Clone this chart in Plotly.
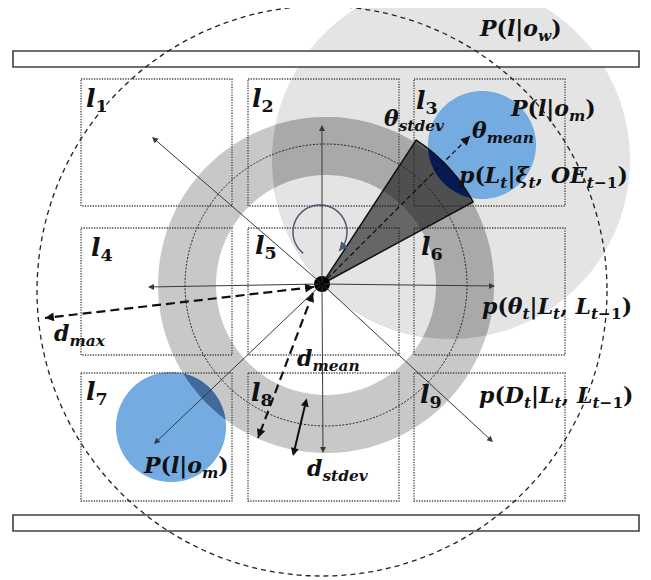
import numpy as np
import plotly.graph_objects as go

W, H = 651, 580
PAGE_MARGIN = 8  # browser default body margin

# ---- geometry (pixel space, y down) ----
robot = (322, 284)
robot_r = 8
bar_x = (13, 639)
bars_y = [(51, 67), (515, 531)]
cell_x = [(81, 232), (248, 399), (414, 565)]
cell_y = [(79, 206), (228, 355), (373, 501)]
cell_ids = ["1", "2", "3", "4", "5", "6", "7", "8", "9"]
cell_label_pos = [(97, 100), (263, 100), (427, 102),
                  (102, 249), (266, 247), (432, 248),
                  (97, 393), (262, 394), (431, 396)]
dmax_circle = (322, 291, 285)
world_circle = (451, 160, 179)
ring_center = (326, 285)
ring_radii = (110, 168)
ring_mean_r = 141
blue_circles = [(482, 145, 54), (171, 427, 55)]
cone_sector = (172, -56.8, -28.5)     # radius, start deg, end deg (screen angles, y down)
theta_mean_tip = (470, 136)
thin_arrow_tips = [(322, 125), (152, 137), (148, 287), (495, 286),
                   (154, 444), (323, 453), (493, 442)]
dmax_ends = [(314, 287), (45, 318)]
dmean_ends = [(313, 293), (258, 438)]
dstdev_ends = [(307, 397), (293, 456)]
rot_arc = (320, 232, 27, 128, 405)   # cx, cy, r, start deg, end deg (screen angles)

labels = [
    ("<b><i>P</i>(<i>l</i>|<i>o</i><sub><i>w</i></sub>)</b>", 520, 30),
    ("<b><i>P</i>(<i>l</i>|<i>o</i><sub><i>m</i></sub>)</b>", 553, 110),
    ("<b><i>θ</i><sub><i>stdev</i></sub></b>", 414, 120),
    ("<b><i>θ</i><sub><i>mean</i></sub></b>", 503, 132),
    ("<b><i>p</i>(<i>L</i><sub><i>t</i></sub>|<i>ξ</i><sub><i>t</i></sub>, <i>OE</i><sub><i>t</i>−1</sub>)</b>", 543, 177),
    ("<b><i>p</i>(<i>θ</i><sub><i>t</i></sub>|<i>L</i><sub><i>t</i></sub>, <i>L</i><sub><i>t</i>−1</sub>)</b>", 557, 308),
    ("<b><i>p</i>(<i>D</i><sub><i>t</i></sub>|<i>L</i><sub><i>t</i></sub>, <i>L</i><sub><i>t</i>−1</sub>)</b>", 556, 397),
    ("<b><i>d</i><sub><i>max</i></sub></b>", 80, 335),
    ("<b><i>d</i><sub><i>mean</i></sub></b>", 328, 360),
    ("<b><i>d</i><sub><i>stdev</i></sub></b>", 338, 470),
    ("<b><i>P</i>(<i>l</i>|<i>o</i><sub><i>m</i></sub>)</b>", 186, 467),
]

FONT = "DejaVu Serif"
FS = 22

C_WORLD = "#e4e4e4"
C_RING = "#c8c8c8"
C_RING_WORLD = "#a9a9a9"
C_BLUE = "#74ace1"
C_BLUE_RING = "#41699a"
C_NAVY = "#061a55"


def circle_pts(cx, cy, r, n=240, a0=0.0, a1=360.0):
    a = np.radians(np.linspace(a0, a1, n))
    return list(zip(cx + r * np.cos(a), cy + r * np.sin(a)))


def path_of(pts, close=True):
    s = "M " + " L ".join(f"{x:.2f},{y:.2f}" for x, y in pts)
    return s + (" Z" if close else "")


def inter(p1, p2, a, b):
    x1, y1 = p1; x2, y2 = p2; x3, y3 = a; x4, y4 = b
    d = (x1 - x2) * (y3 - y4) - (y1 - y2) * (x3 - x4)
    t = ((x1 - x3) * (y3 - y4) - (y1 - y3) * (x3 - x4)) / d
    return (x1 + t * (x2 - x1), y1 + t * (y2 - y1))


def clip_poly(subject, clipper):
    # Sutherland-Hodgman for a convex clipper
    def side(p, a, b):
        return (b[0] - a[0]) * (p[1] - a[1]) - (b[1] - a[1]) * (p[0] - a[0])
    c = np.mean(np.array(clipper), axis=0)
    orient = np.sign(side(tuple(c), clipper[0], clipper[1]))
    out = subject
    for i in range(len(clipper)):
        a, b = clipper[i], clipper[(i + 1) % len(clipper)]
        if np.hypot(b[0] - a[0], b[1] - a[1]) < 1e-9:
            continue
        inp, out = out, []
        if not inp:
            break
        s = inp[-1]
        for e in inp:
            ein = side(e, a, b) * orient >= 0
            sin_ = side(s, a, b) * orient >= 0
            if ein:
                if not sin_:
                    out.append(inter(s, e, a, b))
                out.append(e)
            elif sin_:
                out.append(inter(s, e, a, b))
            s = e
    return out


shapes = []
annotations = []


def circ(cx, cy, r, **kw):
    shapes.append(dict(type="circle", xref="x", yref="y", x0=cx - r, x1=cx + r,
                       y0=cy - r, y1=cy + r, **kw))


def fill_poly(pts, color):
    if len(pts) > 2:
        shapes.append(dict(type="path", xref="x", yref="y", path=path_of(pts),
                           fillcolor=color, line=dict(width=0)))


world_poly = circle_pts(*world_circle, n=360)
outer_poly = circle_pts(ring_center[0], ring_center[1], ring_radii[1], n=360)
inner_poly = circle_pts(ring_center[0], ring_center[1], ring_radii[0], n=360)

# world observation circle
fill_poly(world_poly, C_WORLD)

# distance ring (annulus)
shapes.append(dict(type="path", xref="x", yref="y",
                   path=path_of(outer_poly) + " " + path_of(inner_poly[::-1]),
                   fillcolor=C_RING, fillrule="evenodd", line=dict(width=0)))
fill_poly(clip_poly(world_poly, outer_poly), C_RING_WORLD)
fill_poly(clip_poly(world_poly, inner_poly), C_WORLD)

# blue landmark circles and their overlap with the ring
for bc in blue_circles:
    bpoly = circle_pts(*bc, n=360)
    fill_poly(bpoly, C_BLUE)
    fill_poly(clip_poly(bpoly, outer_poly), C_BLUE_RING)
    fill_poly(clip_poly(bpoly, inner_poly), C_BLUE)

# mean distance (dotted)
circ(ring_center[0], ring_center[1], ring_mean_r,
     line=dict(color="#222", width=1, dash="2px,1.5px"))

# grid cells
for (yy0, yy1) in cell_y:
    for (xx0, xx1) in cell_x:
        shapes.append(dict(type="rect", xref="x", yref="y", x0=xx0, x1=xx1, y0=yy0, y1=yy1,
                           line=dict(color="#444", width=1.3, dash="1.3px,1.3px")))

# walls
for (yy0, yy1) in bars_y:
    shapes.append(dict(type="rect", xref="x", yref="y", x0=bar_x[0], x1=bar_x[1],
                       y0=yy0, y1=yy1, fillcolor="white", line=dict(color="#404040", width=1.6)))

# max range circle
cx, cy, r = dmax_circle
circ(cx, cy, r, line=dict(color="#222", width=1.3, dash="5px,4px"))

# heading cone (sector)
cr, ca0, ca1 = cone_sector
cone_poly = [robot] + circle_pts(robot[0], robot[1], cr, n=40, a0=ca0, a1=ca1)
fill_poly(cone_poly, "rgba(25,25,25,0.62)")
fill_poly(clip_poly(circle_pts(*blue_circles[0], n=360), cone_poly), C_NAVY)
shapes.append(dict(type="path", xref="x", yref="y", path=path_of(cone_poly),
                   line=dict(color="#111", width=1.5)))

# rotation arc
acx, acy, ar, aa0, aa1 = rot_arc
arc_pts = circle_pts(acx, acy, ar, n=120, a0=aa0, a1=aa1)
shapes.append(dict(type="path", xref="x", yref="y", path=path_of(arc_pts, close=False),
                   line=dict(color="#4a5a72", width=1.5)))
annotations.append(dict(x=arc_pts[-1][0], y=arc_pts[-1][1], ax=arc_pts[-6][0], ay=arc_pts[-6][1],
                        xref="x", yref="y", axref="x", ayref="y", text="", showarrow=True,
                        arrowhead=2, arrowsize=1.2, arrowwidth=1.5, arrowcolor="#4a5a72"))


def arrow(p_from, p_to, width=1.0, color="#333", head=2, size=1.0, side="end"):
    annotations.append(dict(x=p_to[0], y=p_to[1], ax=p_from[0], ay=p_from[1],
                            xref="x", yref="y", axref="x", ayref="y", text="",
                            showarrow=True, arrowhead=head, startarrowhead=head,
                            arrowsize=size, startarrowsize=size, arrowside=side,
                            arrowwidth=width, arrowcolor=color, standoff=0, startstandoff=0))


def dashed_arrow(p_from, p_to, width, dash, both=False, size=1.0):
    shapes.append(dict(type="line", xref="x", yref="y", x0=p_from[0], y0=p_from[1],
                       x1=p_to[0], y1=p_to[1], line=dict(color="#111", width=width, dash=dash)))
    v = np.array(p_to, float) - np.array(p_from, float)
    u = v / np.linalg.norm(v)
    arrow(tuple(np.array(p_to) - 6 * u), p_to, width=width, color="#111", size=size)
    if both:
        arrow(tuple(np.array(p_from) + 6 * u), p_from, width=width, color="#111", size=size)


for tip in thin_arrow_tips:
    arrow(robot, tip, width=1.0, color="#3a3a3a", size=1.2)

dashed_arrow(robot, theta_mean_tip, 1.3, "5px,3px", size=1.4)
dashed_arrow(dmax_ends[0], dmax_ends[1], 2.2, "9px,5px", both=True, size=0.8)
dashed_arrow(dmean_ends[0], dmean_ends[1], 2.2, "9px,5px", both=True, size=0.8)
arrow(dstdev_ends[0], dstdev_ends[1], width=2.0, color="#111", size=0.8, side="end+start")

# robot
circ(robot[0], robot[1], robot_r, fillcolor="black", line=dict(width=0))

# texts
for cid, (lx, ly) in zip(cell_ids, cell_label_pos):
    annotations.append(dict(x=lx, y=ly, xref="x", yref="y", showarrow=False,
                            text=f"<b><i>l</i><sub>{cid}</sub></b>",
                            font=dict(family=FONT, size=FS + 3, color="#111")))
for txt, lx, ly in labels:
    annotations.append(dict(x=lx, y=ly, xref="x", yref="y", showarrow=False, text=txt,
                            font=dict(family=FONT, size=FS, color="#111")))

fig = go.Figure()
fig.update_layout(
    width=W - PAGE_MARGIN, height=H - PAGE_MARGIN, margin=dict(l=0, r=0, t=0, b=0),
    paper_bgcolor="white", plot_bgcolor="white",
    xaxis=dict(range=[PAGE_MARGIN, W], visible=False, fixedrange=True),
    yaxis=dict(range=[H, PAGE_MARGIN], visible=False, fixedrange=True),
    shapes=shapes, annotations=annotations, showlegend=False,
)
fig.write_html("out.html")
